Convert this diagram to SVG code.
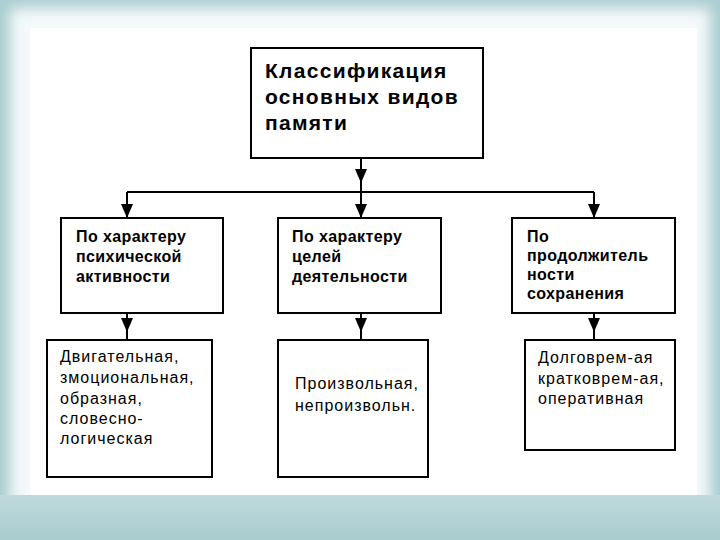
<svg xmlns="http://www.w3.org/2000/svg" width="720" height="540" viewBox="0 0 720 540">
<defs>
<filter id="blur" x="-5%" y="-5%" width="110%" height="110%"><feGaussianBlur stdDeviation="7"/></filter>
<linearGradient id="bot" x1="0" y1="0" x2="0" y2="1"><stop offset="0" stop-color="#c0dadc"/><stop offset="1" stop-color="#a8cccf"/></linearGradient>
<path id="tri" d="M-6,0 L6,0 L0,14 Z" fill="#000"/>
<style>
.box{fill:#fff;stroke:#000;stroke-width:2}
.t1{font-family:"Liberation Sans",Arial,sans-serif;font-weight:bold;font-size:21px;letter-spacing:1.3px;fill:#000}
.t2{font-family:"Liberation Sans",Arial,sans-serif;font-weight:bold;font-size:16px;letter-spacing:0.4px;fill:#000}
.t3{font-family:"Liberation Sans",Arial,sans-serif;font-size:16px;letter-spacing:1px;fill:#000}
.ln{fill:none;stroke:#000;stroke-width:2}
</style>
</defs>
<rect x="0" y="0" width="720" height="540" fill="#a9cdd0"/>
<rect x="10" y="8" width="700" height="520" fill="#f4f9fa" filter="url(#blur)"/>
<rect x="0" y="495" width="720" height="45" fill="url(#bot)"/>
<rect x="30" y="28" width="667" height="467" fill="#fff"/>

<g id="connectors">
<path class="ln" d="M361,158 V192"/>
<use href="#tri" x="361" y="169"/>
<path class="ln" d="M127,192 H594"/>
<path class="ln" d="M127,192 V218"/>
<use href="#tri" x="127" y="204"/>
<path class="ln" d="M361,192 V218"/>
<use href="#tri" x="361" y="204"/>
<path class="ln" d="M594,192 V218"/>
<use href="#tri" x="594" y="204"/>
<path class="ln" d="M127,313 V340"/>
<use href="#tri" x="127" y="318"/>
<path class="ln" d="M361,313 V340"/>
<use href="#tri" x="361" y="318"/>
<path class="ln" d="M594,313 V340"/>
<use href="#tri" x="594" y="318"/>
</g>

<g id="root">
<rect class="box" x="251" y="48" width="232" height="110"/>
<text class="t1" x="265" y="78">Классификация</text>
<text class="t1" x="265" y="104">основных видов</text>
<text class="t1" x="265" y="130">памяти</text>
</g>

<g id="cat1">
<rect class="box" x="61" y="218" width="162" height="95"/>
<text class="t2" x="76" y="242">По характеру</text>
<text class="t2" x="76" y="262">психической</text>
<text class="t2" x="76" y="282">активности</text>
</g>
<g id="cat2">
<rect class="box" x="278" y="218" width="163" height="95"/>
<text class="t2" x="292" y="242">По характеру</text>
<text class="t2" x="292" y="262">целей</text>
<text class="t2" x="292" y="282">деятельности</text>
</g>
<g id="cat3">
<rect class="box" x="512" y="218" width="163" height="95"/>
<text class="t2" x="527" y="242">По</text>
<text class="t2" x="527" y="261">продолжитель</text>
<text class="t2" x="527" y="280">ности</text>
<text class="t2" x="527" y="299">сохранения</text>
</g>

<g id="type1">
<rect class="box" x="47" y="340" width="165" height="137"/>
<text class="t3" x="60" y="362">Двигательная,</text>
<text class="t3" x="60" y="383">змоциональная,</text>
<text class="t3" x="60" y="404">образная,</text>
<text class="t3" x="60" y="424">словесно-</text>
<text class="t3" x="60" y="444">логическая</text>
</g>
<g id="type2">
<rect class="box" x="278" y="340" width="150" height="137"/>
<text class="t3" x="295" y="389">Произвольная,</text>
<text class="t3" x="295" y="411">непроизвольн.</text>
</g>
<g id="type3">
<rect class="box" x="525" y="340" width="150" height="110"/>
<text class="t3" x="538" y="363">Долговрем-ая</text>
<text class="t3" x="538" y="384">кратковрем-ая,</text>
<text class="t3" x="538" y="404">оперативная</text>
</g>
</svg>
